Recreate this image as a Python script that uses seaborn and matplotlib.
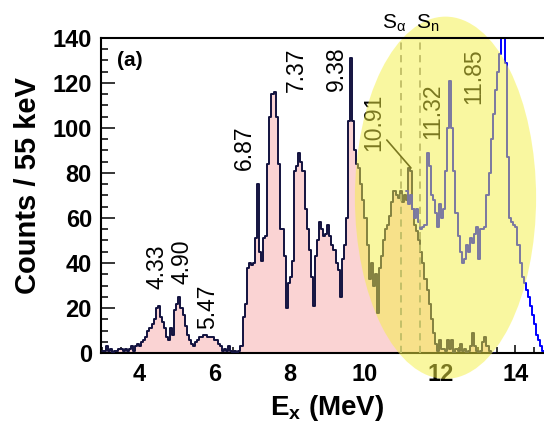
import numpy as np
import pandas as pd
import matplotlib
matplotlib.use("Agg")
import matplotlib.pyplot as plt
import seaborn as sns
from matplotlib.patches import Ellipse
from matplotlib.ticker import MultipleLocator

# ---------------- data ----------------
bin_width = 0.055          # MeV (55 keV bins)
e_start = 3.0              # MeV, lower edge of first bin

# main (navy outline, pink filled) spectrum, counts per 55 keV bin from 3.0 MeV
main_counts = [
    1, 1, 3, 1, 2, 0, 1, 1, 2, 2,
    1, 2, 1, 2, 3, 1, 3, 4, 3, 5,
    6, 7, 10, 11, 13, 15, 20, 21, 16, 14,
    11, 7, 6, 11, 8, 19, 22, 25, 20, 17,
    12, 8, 6, 4, 3, 5, 6, 7, 7, 8,
    8, 7, 7, 7, 6, 6, 4, 3, 1, 2,
    1, 3, 1, 0, 1, 0, 1, 3, 16, 22,
    38, 40, 39, 40, 51, 75, 45, 41, 51, 52,
    84, 105, 115, 116, 105, 84, 55, 55, 43, 20,
    31, 34, 41, 81, 83, 89, 85, 81, 64, 55,
    46, 34, 21, 43, 50, 58, 55, 52, 53, 57,
    52, 48, 46, 40, 37, 25, 42, 48, 60, 103,
    131, 103, 90, 84, 82, 75, 68, 60, 48, 33,
    40, 30, 35, 18, 38, 43, 50, 55, 57, 61,
    67, 72, 70, 69, 72, 67, 70, 68, 82, 81,
    64, 57, 54, 50, 45, 40, 33, 28, 22, 15,
    9, 4, 1, 6, 2, 2, 1, 6, 2, 6,
    0, 2, 1, 4, 1, 2, 0, 1, 3, 9,
    3, 1, 0, 1, 5, 7, 3, 1, 0, 0,
]

# blue spectrum, starting at bin index 147 (11.085 MeV)
blue_start_bin = 147
blue_counts = [
    72, 66, 70, 64, 60, 64, 58, 55, 56, 57,
    89, 83, 70, 68, 62, 56, 66, 60, 64, 81,
    100, 121, 100, 81, 62, 52, 45, 40, 42, 48,
    45, 51, 49, 53, 56, 42, 55, 55, 56, 70,
    80, 95, 106, 117, 125, 133, 150, 140, 129, 87,
    60, 58, 57, 56, 48, 40, 34, 31, 28, 25,
    21, 17, 13, 8, 6, 3, 1,
]

x_ticks = [4, 6, 8, 10, 12, 14]
y_ticks = [0, 20, 40, 60, 80, 100, 120, 140]

peak_labels = ["4.33", "4.90", "5.47", "6.87", "7.37", "9.38"]
peak_label_x = [4.47, 5.13, 5.82, 6.78, 8.17, 9.23]
peak_label_y = [38.4, 40.7, 20.4, 91.0, 126.0, 126.4]

hi_labels = ["10.91", "11.32", "11.85"]
hi_label_x = [10.22, 11.80, 12.90]
hi_label_y = [102.7, 107.3, 123.2]

thresholds = [10.95, 11.47]
threshold_names = [r"S$_\mathregular{\alpha}$", r"S$_\mathregular{n}$"]
threshold_label_x = [10.78, 11.67]

# ---------------- style ----------------
sns.set_style("ticks")
plt.rcParams['font.family'] = ['Liberation Sans', 'DejaVu Sans']
plt.rcParams['mathtext.fontset'] = 'custom'
plt.rcParams['mathtext.rm'] = 'Liberation Sans'
plt.rcParams['mathtext.it'] = 'Liberation Sans:italic'
plt.rcParams['mathtext.bf'] = 'Liberation Sans:bold'

navy = '#12123f'
pink = '#fad3d3'

fig = plt.figure(figsize=(5.44, 4.24), dpi=100)
fig.patch.set_facecolor('white')
ax = fig.add_axes([101/544, 71/424, 443/544, 315/424])
ax.set_facecolor('white')

n_main = len(main_counts)
centers = e_start + bin_width * (np.arange(n_main) + 0.5)
main_df = pd.DataFrame({'E': centers, 'counts': main_counts})
main_range = (e_start, e_start + bin_width * n_main)

n_blue = len(blue_counts)
b_centers = e_start + bin_width * (np.arange(blue_start_bin, blue_start_bin + n_blue) + 0.5)
blue_df = pd.DataFrame({'E': b_centers, 'counts': blue_counts})
blue_range = (e_start + bin_width * blue_start_bin,
              e_start + bin_width * (blue_start_bin + n_blue))

sns.histplot(data=main_df, x='E', weights='counts', bins=n_main, binrange=main_range,
             element='step', fill=True, color=pink, alpha=1, linewidth=0, ax=ax, zorder=2)
sns.histplot(data=main_df, x='E', weights='counts', bins=n_main, binrange=main_range,
             element='step', fill=False, color=navy, linewidth=1.4, ax=ax, zorder=3)
sns.histplot(data=blue_df, x='E', weights='counts', bins=n_blue, binrange=blue_range,
             element='step', fill=False, color='#0000ff', linewidth=1.4, ax=ax, zorder=3.5)

# threshold dashed lines
for xv in thresholds:
    ax.axvline(xv, ymin=0, ymax=1, color='#8a8a8a', linestyle=(0, (4, 3)),
               linewidth=1.3, zorder=4)
for name, xv in zip(threshold_names, threshold_label_x):
    ax.text(xv, 144, name, ha='center', va='baseline', fontsize=15,
            color='black', zorder=8, clip_on=False)

# peak labels
for lab, xv, yv in zip(peak_labels, peak_label_x, peak_label_y):
    ax.text(xv, yv, lab, rotation=90, ha='center', va='center', fontsize=16.5,
            color='black', zorder=4)
for lab, xv, yv in zip(hi_labels, hi_label_x, hi_label_y):
    ax.text(xv, yv, lab, rotation=90, ha='center', va='center', fontsize=16.5,
            color='black', zorder=4)
ax.annotate("", xy=(11.27, 81.3), xytext=(10.53, 95.6),
            arrowprops=dict(arrowstyle='-', color='black', lw=1.2), zorder=4)

ax.text(3.40, 130, "(a)", ha='left', va='center', fontsize=15,
        fontweight='bold', color='black', zorder=6)

# yellow highlight ellipse
ax.add_patch(Ellipse((12.14, 69), 4.82, 161, facecolor=(0.96, 0.94, 0.26),
                     edgecolor='none', alpha=0.5, zorder=5, clip_on=False))

# axes
ax.set_xlim(2.976, 14.76)
ax.set_ylim(0, 140)
ax.set_xticks(x_ticks)
ax.set_xticklabels([str(t) for t in x_ticks], fontweight='bold', fontsize=17)
ax.set_yticks(y_ticks)
ax.set_yticklabels([str(t) for t in y_ticks], fontweight='bold', fontsize=17)
ax.xaxis.set_minor_locator(MultipleLocator(0.5))
ax.yaxis.set_minor_locator(MultipleLocator(5))
ax.tick_params(which='both', direction='in', top=False, right=False,
               width=1.1, color='black', labelcolor='black')
ax.tick_params(axis='y', which='major', length=10, pad=6.5)
ax.tick_params(axis='y', which='minor', length=5)
ax.tick_params(axis='x', which='major', length=6, pad=7)
ax.tick_params(axis='x', which='minor', length=4.5)

for side in ['left', 'bottom', 'top']:
    ax.spines[side].set_linewidth(1.5)
    ax.spines[side].set_color('black')
ax.spines['right'].set_visible(False)
ax.spines['top'].set_zorder(6)

ax.set_ylabel("Counts / 55 keV", fontsize=21, fontweight='bold', color='black', va='center')
ax.yaxis.set_label_coords(-0.165, 0.53)
ax.set_xlabel(r"E$_\mathbf{x}$ (MeV)", fontsize=20, fontweight='bold', color='black', va='center')
ax.xaxis.set_label_coords(0.51, -0.175)

fig.savefig("out.png", dpi=100, facecolor='white')
